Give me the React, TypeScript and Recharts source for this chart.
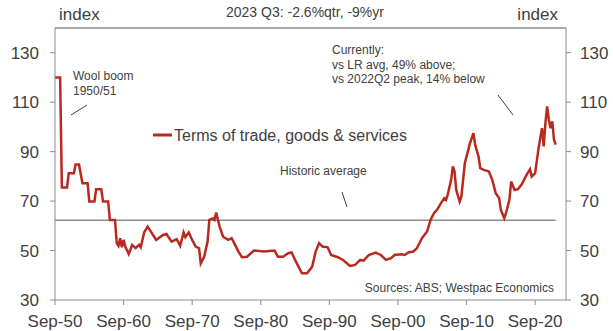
import React from "react";
import {
  LineChart,
  Line,
  XAxis,
  YAxis,
  ReferenceLine,
} from "recharts";

// quarter dates as decimal years (Sep-50 = 1950.75)
const years = [
  1950.75, 1951.5, 1951.75, 1952.5, 1952.75, 1953.5, 1953.75, 1954.25, 1954.75, 1955.5,
  1955.75, 1956.5, 1956.75, 1957.5, 1957.75, 1958.5, 1958.75, 1959.5, 1959.75, 1960.0,
  1960.25, 1960.5, 1960.75, 1961.0, 1961.5, 1962.0, 1962.5, 1963.0, 1963.25, 1963.75,
  1964.25, 1965.0, 1965.5, 1966.5, 1967.0, 1967.75, 1968.5, 1969.0, 1969.5, 1969.75,
  1970.25, 1970.75, 1971.25, 1971.75, 1972.0, 1972.5, 1973.0, 1973.25, 1973.75, 1974.0,
  1974.25, 1974.75, 1975.25, 1976.0, 1976.5, 1977.0, 1977.5, 1978.0, 1978.75, 1979.75,
  1981.25, 1982.75, 1983.25, 1984.0, 1984.75, 1985.25, 1985.75, 1986.25, 1986.75, 1987.5,
  1988.25, 1988.75, 1989.25, 1989.75, 1990.5, 1991.0, 1992.0, 1992.75, 1993.75, 1994.5,
  1995.25, 1995.75, 1996.5, 1997.5, 1998.25, 1999.0, 1999.75, 2000.25, 2001.25, 2001.75,
  2002.25, 2003.0, 2003.5, 2004.25, 2005.0, 2005.5, 2006.0, 2006.5, 2007.0, 2007.5,
  2007.75, 2008.0, 2008.5, 2008.75, 2009.0, 2009.25, 2009.75, 2010.0, 2010.5, 2010.75,
  2011.25, 2011.75, 2012.0, 2012.5, 2012.75, 2013.25, 2014.0, 2014.5, 2015.0, 2015.5,
  2015.75, 2016.25, 2016.5, 2017.0, 2017.25, 2017.75, 2018.25, 2018.75, 2019.5, 2020.0,
  2020.25, 2020.75, 2021.25, 2021.75, 2022.0, 2022.25, 2022.5, 2022.75, 2023.0, 2023.25,
  2023.5, 2023.75,
];

// terms of trade index, goods & services
const tot = [
  120, 120, 75.5, 75.5, 81.3, 81.3, 84.8, 84.8, 77.2, 77.2,
  69.8, 69.8, 74.8, 74.8, 69.8, 69.8, 62.4, 62.4, 53, 51.9,
  55, 51.3, 54.3, 51.5, 48.6, 52.3, 51, 52.3, 51.3, 57.3,
  59.7, 56.5, 54.3, 56.3, 56.7, 53.6, 54.6, 51.9, 57.3, 55.4,
  57.3, 54.3, 51.6, 51, 44.8, 47.5, 53.6, 62.4, 63, 62.4,
  65.4, 59.7, 55.6, 54.3, 55, 52.3, 49.6, 47.3, 47.5, 50,
  49.6, 50, 47.5, 47.5, 48.9, 49.2, 46.2, 43.5, 40.8, 40.8,
  43.5, 49.6, 53, 51.6, 51.3, 48.2, 47.3, 46.2, 43.8, 44.2,
  46.2, 45.9, 48.2, 49.2, 48.2, 46.2, 46.9, 48.2, 48.5, 48.2,
  49.2, 49.6, 50.9, 55, 57.7, 62.4, 65.1, 66.7, 69.1, 71.2,
  70.5, 72.5, 78.6, 84, 82, 74.5, 69.8, 71.9, 85.3, 88,
  93.4, 97.5, 92.8, 88, 83.3, 82.6, 82, 78.6, 73.2, 71.2,
  66.4, 63.1, 65.1, 70.5, 77.9, 74.5, 74.8, 76.6, 80.6, 82.9,
  79.9, 81.3, 91.4, 99.5, 92.1, 101.5, 108.3, 102.9, 99.5, 102.2,
  94.8, 92.8,
];

const xTicks = [1950.75, 1960.75, 1970.75, 1980.75, 1990.75, 2000.75, 2010.75, 2020.75];
const yTicks = [30, 50, 70, 90, 110, 130];
const historicAverage = 62.3;

const data = years.map((year, i) => ({ year, tot: tot[i] }));

const RED = "#B82A1F";
const GREY = "#8C8C8C";
const TEXT = "#404040";
const FONT = "'Liberation Sans', Arial, sans-serif";

const fmtQuarter = (v: number) => "Sep-" + String(Math.floor(v) % 100).padStart(2, "0");

export default function App() {
  return (
    <div style={{ position: "absolute", left: 0, top: 0, width: 613, height: 331, background: "#fff" }}>
      <LineChart
        width={613}
        height={331}
        data={data}
        margin={{ top: 28, right: 0, bottom: 0, left: 0 }}
        style={{ fontFamily: FONT }}
      >
        <XAxis
          dataKey="year"
          type="number"
          domain={[1950.75, 2025.25]}
          ticks={xTicks}
          tickFormatter={fmtQuarter}
          height={31}
          tickSize={5}
          tickMargin={10}
          stroke={GREY}
          tick={{ fill: TEXT, fontSize: 17 }}
          interval={0}
        />
        <YAxis
          yAxisId="left"
          domain={[30, 140]}
          ticks={yTicks}
          width={55}
          tickSize={5}
          tickMargin={11}
          stroke={GREY}
          tick={{ fill: TEXT, fontSize: 17 }}
          interval={0}
        />
        <YAxis
          yAxisId="right"
          orientation="right"
          domain={[30, 140]}
          ticks={yTicks}
          width={47}
          tickSize={5}
          tickMargin={9}
          stroke={GREY}
          tick={{ fill: TEXT, fontSize: 17 }}
          interval={0}
        />
        <ReferenceLine yAxisId="left" y={140} stroke={GREY} strokeWidth={1.5} />
        <ReferenceLine
          yAxisId="left"
          segment={[
            { x: 1950.75, y: historicAverage },
            { x: 2023.75, y: historicAverage },
          ]}
          stroke={GREY}
          strokeWidth={1.5}
        />
        {/* invisible copy so the right axis has a series */}
        <Line
          yAxisId="right"
          dataKey="tot"
          stroke="none"
          dot={false}
          activeDot={false}
          legendType="none"
          isAnimationActive={false}
        />
        <Line
          yAxisId="left"
          dataKey="tot"
          name="Terms of trade, goods & services"
          stroke={RED}
          strokeWidth={2.5}
          dot={false}
          type="linear"
          isAnimationActive={false}
        />
      </LineChart>
      <svg
        width={613}
        height={331}
        style={{ position: "absolute", left: 0, top: 0, pointerEvents: "none", fontFamily: FONT }}
      >
        <line x1={153} y1={135} x2={172} y2={135} stroke={RED} strokeWidth={3} />
        <text x={174} y={141} fontSize={16} fill={TEXT}>Terms of trade, goods &amp; services</text>
        <text x={59} y={20} fontSize={17} fill={TEXT}>index</text>
        <text x={558} y={20} fontSize={17} fill={TEXT} textAnchor="end">index</text>
        <text x={305} y={17} fontSize={14} fill={TEXT} textAnchor="middle">2023 Q3:  -2.6%qtr, -9%yr</text>
        <text x={73} y={80} fontSize={12} fill={TEXT}>Wool boom</text>
        <text x={73} y={95} fontSize={12} fill={TEXT}>1950/51</text>
        <line x1={71} y1={115} x2={87} y2={105} stroke={TEXT} strokeWidth={1} />
        <text x={332} y={54} fontSize={12} fill={TEXT}>Currently:</text>
        <text x={332} y={69} fontSize={12} fill={TEXT}>vs LR avg, 49% above;</text>
        <text x={332} y={83} fontSize={12} fill={TEXT}>vs 2022Q2 peak, 14% below</text>
        <line x1={498} y1={95} x2={513} y2={115} stroke={TEXT} strokeWidth={1} />
        <text x={280} y={175} fontSize={12} fill={TEXT}>Historic average</text>
        <line x1={342} y1={192} x2={347} y2={207} stroke={TEXT} strokeWidth={1} />
        <text x={554} y={292} fontSize={12} fill={TEXT} textAnchor="end">Sources: ABS; Westpac Economics</text>
      </svg>
    </div>
  );
}
